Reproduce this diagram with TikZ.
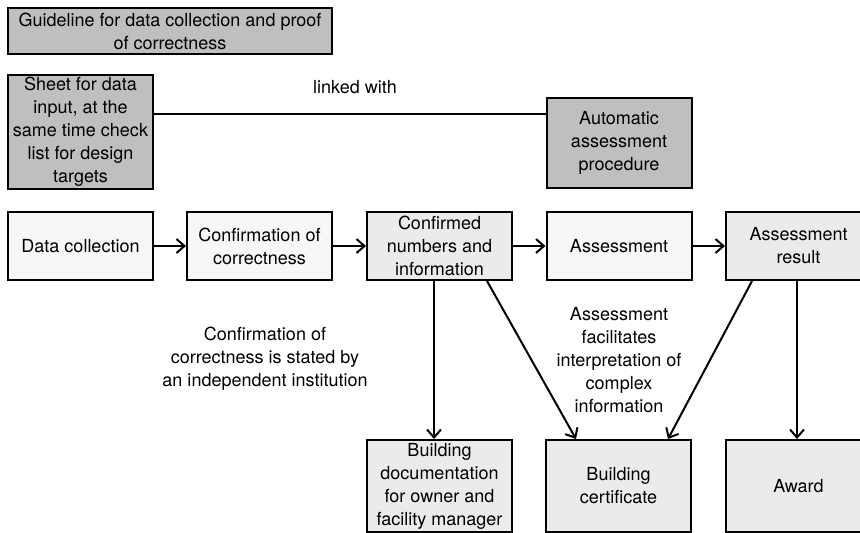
\documentclass[tikz,border=0pt]{standalone}
\usepackage{fontspec}
\setmainfont{TeX Gyre Heros}
\usetikzlibrary{arrows.meta}

\begin{document}
\begin{tikzpicture}[
        x=0.5pt,
        y=-0.5pt,
        font=\fontsize{9}{11.5}\selectfont,
        box/.style={
            draw,
            line width=1pt,
            align=center,
            inner sep=0pt,
            minimum width=72.5pt,
            minimum height=34pt,
        },
        box-dark/.style={
            box,
            fill=black!25,
        },
        box-light/.style={
            box,
            fill=black!3,
        },
        box-mid/.style={
            box,
            fill=black!8,
        },
        link/.style={
            line width=1pt,
            -{Straight Barb[length=4pt,width=7pt]},
        },
        link-plain/.style={
            line width=1pt,
        },
        note/.style={
            align=center,
        },
    ]

    \useasboundingbox (0,0) rectangle (860,532);

    % Documents on top.
    \node[box-dark, minimum width=162pt, minimum height=23pt] (guide) at (170,31)
        {Guideline for data collection and proof\\of correctness};
    \node[box-dark, minimum height=57pt] (sheet) at (80.5,132)
        {Sheet for data\\input, at the\\same time check\\list for design\\targets};
    \node[box-dark, minimum height=45pt] (auto) at (619,143)
        {Automatic\\assessment\\procedure};

    \coordinate (link-y) at (0,114);
    \draw[link-plain] (sheet.east |- link-y) -- (auto.west |- link-y);
    \node[note] (linked) at (355,87) {linked with};

    % Main process row.
    \node[box-light] (data) at (80.5,246) {Data collection};
    \node[box-light] (confirm) at (259.5,246) {Confirmation of\\correctness};
    \node[box-mid] (numbers) at (439.5,246) {Confirmed\\numbers and\\information};
    \node[box-light] (assess) at (619,246) {Assessment};
    \node[box-mid] (result) at (798.5,246) {Assessment\\result};

    \foreach \a/\b in {data/confirm, confirm/numbers, numbers/assess, assess/result}
    \draw[link] (\a) -- (\b);

    % Outputs.
    \node[box-mid, minimum height=46pt] (doc) at (439.5,486)
        {Building\\documentation\\for owner and\\facility manager};
    \node[box-mid, minimum height=46pt] (cert) at (618.5,486) {Building\\certificate};
    \node[box-mid, minimum height=46pt] (award) at (798.5,486) {Award};

    \draw[link] ([xshift=-2.75pt]numbers.south) -- ([xshift=-2.75pt]doc.north);
    \draw[link] ([xshift=23.75pt]numbers.south) -- ([xshift=-21.25pt]cert.north);
    \draw[link] ([xshift=-23.25pt]result.south) -- ([xshift=24.75pt]cert.north);
    \draw[link] ([xshift=-0.75pt]result.south) -- ([xshift=-0.75pt]award.north);

    % Remarks.
    \node[note] (remark-confirm) at (265,359)
        {Confirmation of\\correctness is stated by\\an independent institution};
    \node[note] (remark-assess) at (619,360)
        {Assessment\\facilitates\\interpretation of\\complex\\information};
\end{tikzpicture}
\end{document}
